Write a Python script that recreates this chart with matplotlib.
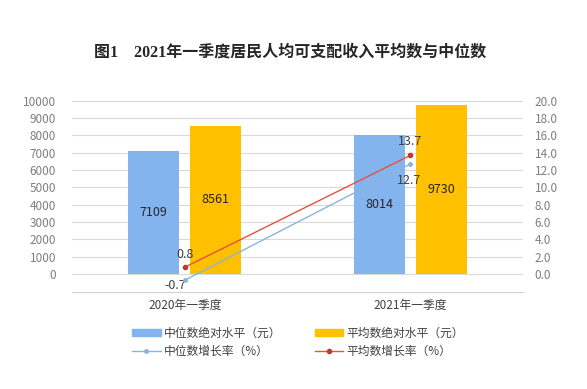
import matplotlib
matplotlib.use("Agg")
import matplotlib.pyplot as plt
import numpy as np
from matplotlib.patches import Patch
from matplotlib.lines import Line2D

plt.rcParams['font.family'] = ['Noto Sans CJK SC', 'DejaVu Sans']

categories = ["2020年一季度", "2021年一季度"]
median_level = [7109, 8014]
mean_level = [8561, 9730]
median_growth = [-0.7, 12.7]
mean_growth = [0.8, 13.7]
left_ticks = list(range(0, 10001, 1000))
right_ticks = [0, 2, 4, 6, 8, 10, 12, 14, 16, 18, 20]

blue = "#83B4EE"
orange = "#FFC000"
red_line = "#E8503A"
blue_line = "#8DB4D8"
grey = "#7F7F7F"

fig = plt.figure(figsize=(5.87, 3.89), dpi=100)
ax = fig.add_axes([0.1227, 0.2506, 0.7683, 0.4904])
x = np.arange(len(categories))
w = 0.226
off = 0.1375
ax.bar(x - off, median_level, width=w, color=blue, zorder=2)
ax.bar(x + off, mean_level, width=w, color=orange, zorder=2)
ax.set_xlim(-0.5, 1.5)
ax.set_ylim(-1000, 10000)
ax.set_yticks(left_ticks)
ax.set_yticklabels([str(v) for v in left_ticks], fontsize=8.5, color=grey)
ax.tick_params(axis='y', length=0, pad=11.5)
ax.set_xticks(x)
ax.set_xticklabels(categories, fontsize=8.5, color="#404040")
ax.tick_params(axis='x', length=0, pad=5)
for v in left_ticks:
    ax.axhline(v, color="#D9D9D9", lw=0.8, zorder=0)
for s in ['top', 'right', 'left']:
    ax.spines[s].set_visible(False)
ax.spines['bottom'].set_color("#D0D0D0")

for i in range(len(categories)):
    ax.text(x[i] - off, median_level[i] / 2, str(median_level[i]), ha='center', va='center', fontsize=9, color="#262626", zorder=5)
    ax.text(x[i] + off, mean_level[i] / 2, str(mean_level[i]), ha='center', va='center', fontsize=9, color="#262626", zorder=5)

ax2 = ax.twinx()
ax2.set_ylim(-2, 20)
ax2.set_yticks(right_ticks)
ax2.set_yticklabels([f"{v:.1f}" for v in right_ticks], fontsize=8.5, color=grey)
ax2.tick_params(axis='y', length=0, pad=8.5)
for s in ['top', 'right', 'left', 'bottom']:
    ax2.spines[s].set_visible(False)
ax2.plot(x, median_growth, color=blue_line, lw=1.0, marker='o', ms=2.5, zorder=4)
ax2.plot(x, mean_growth, color=red_line, lw=1.0, marker='o', ms=3, mfc="#C0392B", mec="#C0392B", zorder=4)

lab_kw = dict(textcoords='offset points', ha='center', va='center', fontsize=9, color="#404040")
ax2.annotate(f"{mean_growth[0]}", (x[0], mean_growth[0]), xytext=(0, 9.5), **lab_kw)
ax2.annotate(f"{median_growth[0]}", (x[0], median_growth[0]), xytext=(-7, -4), **lab_kw)
ax2.annotate(f"{mean_growth[1]}", (x[1], mean_growth[1]), xytext=(0, 10), **lab_kw)
ax2.annotate(f"{median_growth[1]}", (x[1], median_growth[1]), xytext=(-1, -11.5), **lab_kw)

fig.text(0.494, 0.866, "图1　2021年一季度居民人均可支配收入平均数与中位数", ha='center', va='center',
         fontsize=11.5, fontweight='bold', color="#262626",
         family=['Liberation Serif', 'Noto Sans CJK SC'])

handles = [Patch(color=blue), Line2D([0], [0], color=blue_line, lw=1, marker='o', ms=2.5),
           Patch(color=orange), Line2D([0], [0], color=red_line, lw=1, marker='o', ms=3, mfc="#C0392B", mec="#C0392B")]
labels = ["中位数绝对水平（元）", "中位数增长率（%）", "平均数绝对水平（元）", "平均数增长率（%）"]
fig.legend(handles, labels, ncol=2, loc='center', bbox_to_anchor=(0.508, 0.12), frameon=False,
           fontsize=8.5, handlelength=2.4, handleheight=0.5, handletextpad=0.3, columnspacing=2.8,
           labelspacing=0.45, labelcolor="#404040")

fig.savefig("out.png", dpi=100)
